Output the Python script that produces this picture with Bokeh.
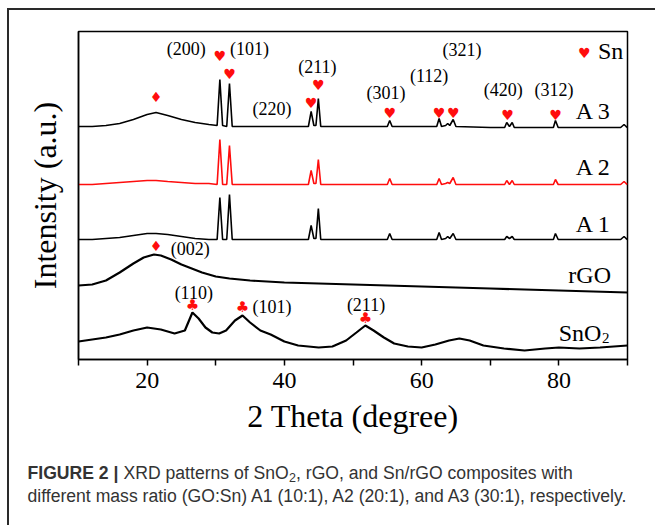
from bokeh.plotting import figure
from bokeh.layouts import column
from bokeh.models import Range1d, FixedTicker
from bokeh.core.properties import value
from bokeh.embed import file_html
from bokeh.resources import INLINE

# ---------------- data (2 theta in degrees, intensity in arbitrary units) -------------
two_theta_sn = [10, 12, 14, 16, 18, 20, 21.3, 23, 25, 27,
                29, 30.2, 30.6, 31.0, 31.6, 32.0, 32.4, 35, 38, 41,
                43.5, 43.9, 44.3, 44.6, 44.95, 45.3, 48, 52, 55.0, 55.35,
                55.7, 60, 62.2, 62.55, 62.9, 63.5, 63.8, 64.1, 64.6, 65.0,
                70, 72.1, 72.4, 72.8, 73.2, 73.5, 76, 79.2, 79.5, 79.9,
                85, 89.0, 89.5, 89.8, 90]
int_a3 = [233, 233, 234, 236, 240, 245, 247, 244, 240, 237,
          235, 234, 280, 234, 233, 276, 233, 233, 233, 233,
          233, 248, 234, 234, 261, 233, 233, 233, 233, 239,
          233, 233, 233, 241, 233, 234, 236, 234, 240, 233,
          232, 232, 237, 233, 237, 232, 232, 232, 239, 232,
          232, 232, 235, 233, 232]
int_a2 = [175, 175, 176, 177, 178, 179, 179, 178, 177, 176,
          176, 175, 220, 175, 175, 214, 175, 175, 175, 175,
          175, 189, 176, 176, 200, 175, 175, 175, 175, 181,
          175, 175, 175, 181, 175, 176, 177, 176, 182, 175,
          175, 175, 179, 175, 179, 175, 175, 175, 180, 175,
          175, 175, 178, 176, 175]
int_a1 = [120, 120, 121, 122, 124, 126, 126, 125, 123, 121,
          120, 120, 162, 120, 120, 165, 120, 120, 120, 120,
          120, 134, 121, 121, 151, 120, 120, 120, 120, 126,
          120, 120, 120, 127, 120, 121, 123, 121, 126, 120,
          120, 120, 123, 121, 123, 120, 120, 120, 126, 120,
          120, 120, 123, 121, 120]

two_theta_rgo = [10, 12, 14, 16, 18, 19.5, 21, 22, 23.5, 25,
                 26.5, 28, 30, 32, 35, 40, 45, 50, 55, 60,
                 65, 70, 75, 80, 85, 90]
int_rgo = [74, 75, 79, 87, 96, 102, 105, 104, 100, 95,
           91, 87, 83, 81, 79, 77, 76, 75, 74, 73,
           72, 71, 70, 69, 68, 67]

two_theta_sno2 = [10, 12, 14, 16, 18, 20, 22, 24, 25.5, 26.6,
                  27.5, 28.5, 29.5, 30.5, 31.5, 32.8, 33.9, 35, 36.5, 38,
                  40, 42, 45, 47, 49, 50.5, 51.8, 53, 54.5, 56,
                  58, 60, 62, 64, 65.5, 67, 69, 72, 75, 78,
                  80, 83, 86, 90]
int_sno2 = [18, 20, 22, 25, 29, 32, 30, 26, 29, 47,
            41, 32, 27, 26, 29, 39, 44, 37, 29, 25,
            18, 14, 12, 13, 19, 27, 34, 29, 22, 16,
            13, 12, 15, 19, 21, 19, 14, 11, 9, 11,
            12, 11, 12, 14]

# peak markers
heart_x = [30.6, 32.0, 43.9, 44.95, 55.35, 62.55, 64.6, 72.5, 79.5, 83.7]
heart_y = [304, 286, 257, 275, 247, 247, 247, 245, 245, 307]
diamond_x = [21.3, 21.3]
diamond_y = [263, 114]
club_x = [26.6, 33.9, 51.8]
club_y = [55, 53, 42]

# Miller index labels
hkl_text = ["(200)", "(101)", "(211)", "(220)", "(301)", "(112)", "(321)", "(420)", "(312)",
            "(002)", "(110)", "(101)", "(211)"]
hkl_x = [25.7, 34.9, 44.8, 38.2, 54.8, 61.1, 65.9, 71.9, 79.3,
         26.3, 26.8, 38.2, 51.9]
hkl_y = [311, 311, 293, 251, 267, 284, 310, 270, 270,
         111, 67, 53, 55]

# sample names
sample_text = ["A 3", "A 2", "A 1", "rGO"]
sample_x = [87.6, 87.6, 87.6, 87.6]
sample_y = [249, 193, 136, 85]

x_ticks = [20, 40, 60, 80]
x_minor_ticks = [10, 30, 50, 70, 90]

caption_bold = "FIGURE 2 |"
caption_1a = "XRD patterns of SnO"
caption_1sub = "2"
caption_1b = ", rGO, and Sn/rGO composites with"
caption_2 = "different mass ratio (GO:Sn) A1 (10:1), A2 (20:1), and A3 (30:1), respectively."

SERIF = value("Liberation Serif")
SYM = value("DejaVu Sans")
RED = "#ff0d0d"
W = 646

p = figure(frame_width=549, frame_height=328,
           x_range=Range1d(10, 90), y_range=Range1d(0, 328),
           output_backend="svg", toolbar_location=None,
           min_border_left=69, min_border_top=21, min_border_right=28, min_border_bottom=90,
           background_fill_color="white", border_fill_color="white")
p.grid.visible = False
p.outline_line_color = "black"
p.outline_line_width = 1.5

p.line(two_theta_sno2, int_sno2, line_color="black", line_width=2.2)
p.line(two_theta_rgo, int_rgo, line_color="black", line_width=2.2)
p.line(two_theta_sn, int_a1, line_color="black", line_width=1.6)
p.line(two_theta_sn, int_a2, line_color=RED, line_width=1.6)
p.line(two_theta_sn, int_a3, line_color="black", line_width=1.6)

p.text(heart_x, heart_y, text=["\u2665"] * len(heart_x), text_font=SYM, text_font_size="14px",
       text_color=RED, text_align="center", text_baseline="middle")
p.text(diamond_x, diamond_y, text=["\u2666"] * len(diamond_x), text_font=SYM, text_font_size="14px",
       text_color=RED, text_align="center", text_baseline="middle")
p.text(club_x, club_y, text=["\u2663"] * len(club_x), text_font=SYM, text_font_size="15px",
       text_color=RED, text_align="center", text_baseline="middle")

p.text(hkl_x, hkl_y, text=hkl_text, text_font=SERIF, text_font_size="18px",
       text_color="black", text_align="center", text_baseline="middle")
p.text(sample_x, sample_y, text=sample_text, text_font=SERIF, text_font_size="24px",
       text_color="black", text_align="right", text_baseline="middle")
p.text([86.2], [27], text=["SnO"], text_font=SERIF, text_font_size="24px",
       text_color="black", text_align="right", text_baseline="middle")
p.text([86.3], [22], text=["2"], text_font=SERIF, text_font_size="15px",
       text_color="black", text_align="left", text_baseline="middle")
p.text([85.7], [309], text=["Sn"], text_font=SERIF, text_font_size="24px",
       text_color="black", text_align="left", text_baseline="middle")

ax = p.xaxis[0]
ax.ticker = FixedTicker(ticks=x_ticks, minor_ticks=x_minor_ticks)
ax.axis_label = "2 Theta (degree)"
ax.axis_label_text_font = "Liberation Serif"
ax.axis_label_text_font_size = "32px"
ax.axis_label_text_font_style = "normal"
ax.axis_label_text_color = "black"
ax.axis_label_standoff = 7
ax.major_label_text_font = "Liberation Serif"
ax.major_label_text_font_size = "24px"
ax.major_label_text_color = "black"
ax.major_label_standoff = 7
ax.major_tick_in = 0
ax.major_tick_out = 6
ax.minor_tick_in = 0
ax.minor_tick_out = 6
ax.axis_line_width = 1.5
ax.major_tick_line_width = 1.5
ax.minor_tick_line_width = 1.5
ax.axis_line_color = "black"

ay = p.yaxis[0]
ay.ticker = FixedTicker(ticks=[], minor_ticks=[])
ay.axis_label = "Intensity (a.u.)"
ay.axis_label_text_font = "Liberation Serif"
ay.axis_label_text_font_size = "32px"
ay.axis_label_text_font_style = "normal"
ay.axis_label_text_color = "black"
ay.axis_label_standoff = 16
ay.major_tick_in = 0
ay.major_tick_out = 0
ay.minor_tick_in = 0
ay.minor_tick_out = 0
ay.axis_line_width = 1.5
ay.axis_line_color = "black"

# ---------------- caption panel (pixel coordinates, y from bottom) ----------------
H2 = 76
c = figure(width=W, height=H2, x_range=Range1d(0, W), y_range=Range1d(0, H2),
           output_backend="svg", toolbar_location=None, min_border=0,
           background_fill_color="white", border_fill_color="white")
c.axis.visible = False
c.grid.visible = False
c.outline_line_color = None

for fig in (p, c):
    try:
        fig.frame_align = False
    except Exception:
        pass

CAP = value("Liberation Sans")
CS = "17.6px"
cap_color = "#333333"
x0 = 18
y1 = 53
y2 = 30
c.text([x0], [y1], text=[caption_bold], text_font=CAP, text_font_size=CS, text_font_style="bold",
       text_color=cap_color, text_baseline="middle", text_align="left")
c.text([x0 + 96], [y1], text=[caption_1a], text_font=CAP, text_font_size=CS,
       text_color=cap_color, text_baseline="middle", text_align="left")
c.text([x0 + 261.5], [y1 - 5], text=[caption_1sub], text_font=CAP, text_font_size="12.5px",
       text_color=cap_color, text_baseline="middle", text_align="left")
c.text([x0 + 268.5], [y1], text=[caption_1b], text_font=CAP, text_font_size=CS,
       text_color=cap_color, text_baseline="middle", text_align="left")
c.text([x0], [y2], text=[caption_2], text_font=CAP, text_font_size=CS,
       text_color=cap_color, text_baseline="middle", text_align="left")

layout = column(p, c, spacing=0)
layout.styles = {"margin-left": "7px", "margin-top": "8px",
                 "border-top": "2px solid #2a2a2a", "border-left": "2px solid #2a2a2a"}

open("out.html", "w").write(file_html(layout, INLINE))
